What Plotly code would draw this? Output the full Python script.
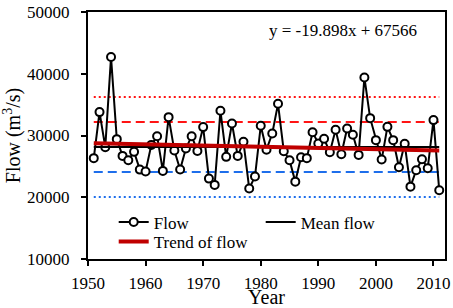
import plotly.graph_objects as go

years = list(range(1951, 2012))
flow = [26330, 33790, 28110, 42700, 29410, 26700, 26000, 27350, 24480, 24160,
        28480, 29890, 24270, 32970, 27560, 24500, 27890, 29890, 27510, 31360,
        23020, 22000, 34000, 26540, 31940, 26700, 28970, 21410, 23350, 31570,
        27700, 30320, 35130, 27460, 26000, 22530, 26490, 26330, 30540, 28700,
        29460, 27300, 30920, 26970, 31130, 30110, 26860, 39400, 32810, 29250,
        26100, 31400, 29250, 24870, 28650, 21720, 24380, 26160, 24700, 32490,
        21140]

mean_flow = 28150
upper_2sd = 36250
upper_1sd = 32200
lower_1sd = 24100
lower_2sd = 20050

trend_slope = -19.898
trend_intercept = 67566

line_years = [years[0], years[-1]]
trend_vals = [trend_slope * y + trend_intercept for y in line_years]

RED = "rgb(255,20,20)"
BLUE = "rgb(30,110,235)"
FONT = "Liberation Serif"
FS = 17

fig = go.Figure()

ref_lines = [
    (upper_2sd, RED, "2px,3px"),
    (upper_1sd, RED, "9px,5px"),
    (lower_1sd, BLUE, "9px,5px"),
    (lower_2sd, BLUE, "2px,3px"),
]
for val, col, dash in ref_lines:
    fig.add_trace(go.Scatter(x=line_years, y=[val, val], mode="lines",
                             line=dict(color=col, width=2, dash=dash),
                             showlegend=False, hoverinfo="skip"))

fig.add_trace(go.Scatter(x=years, y=flow, mode="lines+markers", name="Flow",
                         line=dict(color="black", width=2),
                         marker=dict(symbol="circle", size=8, color="white",
                                     line=dict(color="black", width=2)),
                         legend="legend"))
fig.add_trace(go.Scatter(x=line_years, y=[mean_flow, mean_flow], mode="lines",
                         name="Mean flow", line=dict(color="black", width=2),
                         legend="legend"))
fig.add_trace(go.Scatter(x=line_years, y=trend_vals, mode="lines",
                         name="Trend of flow",
                         line=dict(color="rgb(192,0,0)", width=4),
                         legend="legend2"))

fig.add_annotation(text="y = -19.898x + 67566", xref="paper", yref="paper",
                   x=0.714, y=0.927, xanchor="center", yanchor="middle",
                   showarrow=False,
                   font=dict(family=FONT, size=FS, color="black"))

legend_common = dict(orientation="h", xanchor="left", yanchor="top",
                     bgcolor="rgba(0,0,0,0)",
                     font=dict(family=FONT, size=FS, color="black"))

fig.update_layout(
    width=453, height=308,
    margin=dict(l=88, r=8, t=12, b=49, autoexpand=False),
    plot_bgcolor="white", paper_bgcolor="white",
    font=dict(family=FONT, size=FS, color="black"),
    legend=dict(x=0.072, y=0.221, entrywidth=102, **legend_common),
    legend2=dict(x=0.072, y=0.142, **legend_common),
    showlegend=True,
)
fig.update_xaxes(range=[1950, 2012], tick0=1950, dtick=10, ticks="outside",
                 ticklen=5, tickwidth=2, tickcolor="black", tickformat="d",
                 showline=True, linewidth=2, linecolor="black", mirror=True,
                 showgrid=False, zeroline=False, ticklabelstandoff=3,
                 automargin=False,
                 title=dict(text="Year", standoff=2),
                 tickfont=dict(family=FONT, size=FS, color="black"))
fig.update_yaxes(range=[10000, 50000], tick0=10000, dtick=10000, ticks="outside",
                 ticklen=5, tickwidth=2, tickcolor="black", tickformat="d",
                 showline=True, linewidth=2, linecolor="black", mirror=True,
                 showgrid=False, zeroline=False, ticklabelstandoff=8,
                 automargin=False,
                 title=dict(text="Flow (m<sup>3</sup>/s)", standoff=4),
                 tickfont=dict(family=FONT, size=FS, color="black"))

fig.write_html("out.html", config={"displayModeBar": False},
               post_script="document.body.style.margin='0';document.body.style.padding='0';")
